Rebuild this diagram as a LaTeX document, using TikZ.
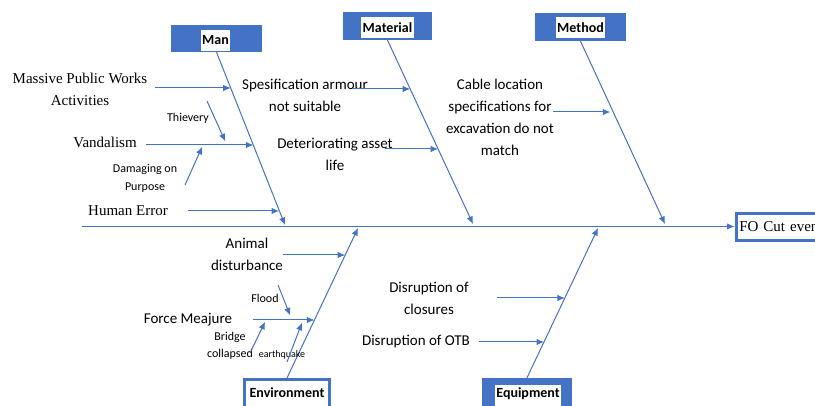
\documentclass[tikz,border=0pt]{standalone}
\usepackage{fontspec}
\setmainfont{Liberation Serif}
\newfontfamily\calibri{Carlito}
\usetikzlibrary{arrows.meta}
\definecolor{fbblue}{RGB}{68,114,196}

\tikzset{
  bone/.style={draw=fbblue, line width=1pt, -{Latex[length=7.5pt,width=6.5pt]}},
  catbox/.style={fill=fbblue, inner sep=0pt},
  catlbl/.style={fill=white, inner sep=1.5pt, minimum height=21pt,
                 font=\calibri\bfseries\fontsize{14}{16}\selectfont},
  causeserif/.style={font=\fontsize{15}{22}\selectfont, align=center, inner sep=0pt},
  cause/.style={font=\calibri\fontsize{15}{22}\selectfont, align=center, inner sep=0pt},
  subcause/.style={font=\calibri\fontsize{12}{17.5}\selectfont, align=center, inner sep=0pt},
  tinycause/.style={font=\calibri\fontsize{10}{12}\selectfont, inner sep=0pt},
}

\begin{document}
\begin{tikzpicture}[x=1pt,y=-1pt]
\useasboundingbox (0,0) rectangle (815,406);
\clip (0,0) rectangle (815,406);

% ---------- category heads ----------
\node[catbox, minimum width=91pt, minimum height=27pt] (manBox) at (216.5,38.5) {};
\node[catlbl] (manLbl) at (215.5,40.5) {Man};
\node[catbox, minimum width=89pt, minimum height=28pt] (matBox) at (387.5,26) {};
\node[catlbl] (matLbl) at (387.5,27.5) {Material};
\node[catbox, minimum width=91pt, minimum height=28pt] (metBox) at (580.5,27) {};
\node[catlbl] (metLbl) at (580.5,27.5) {Method};
\node[draw=fbblue, line width=3pt, fill=white, minimum width=85pt, minimum height=32pt,
      inner sep=0pt] (envBox) at (287,395.5) {};
\node[catlbl, inner sep=0pt] (envLbl) at (287,393) {Environment};
\node[catbox, minimum width=90pt, minimum height=32pt] (eqpBox) at (527,394) {};
\node[catlbl, anchor=base, minimum height=0pt, text height=11.5pt, text depth=10pt]
  (eqpLbl) at (528,398) {Equipment};

% ---------- effect ----------
\node[draw=fbblue, line width=3.5pt, fill=white, anchor=west, minimum height=27pt,
      text width=90pt, inner xsep=3pt, align=left,
      font=\fontsize{15}{18}\selectfont] (foBox) at (734.5,227) {FO Cut event};

% ---------- main spine ----------
\coordinate (spineStart) at (82,226.5);
\draw[bone] (spineStart) -- (spineStart -| foBox.west);

% ---------- category bones ----------
\coordinate (manTip) at (285,225);
\coordinate (matTip) at (473,224);
\coordinate (metTip) at (665,224);
\coordinate (envTip) at (358,228);
\coordinate (eqpTip) at (598,228);

\draw[bone] (manBox.south) -- (manTip)
  coordinate[pos=0.208] (man1) coordinate[pos=0.538] (man2) coordinate[pos=0.913] (man3);
\draw[bone] (matBox.south) -- (matTip)
  coordinate[pos=0.266] (mat1) coordinate[pos=0.592] (mat2);
\draw[bone] (metBox.south) -- (metTip)
  coordinate[pos=0.388] (met1);
\draw[bone] (envBox.north) -- (envTip)
  coordinate[pos=0.82] (env1) coordinate[pos=0.387] (env2);
\draw[bone] (eqpBox.north) -- (eqpTip)
  coordinate[pos=0.533] (eqp1) coordinate[pos=0.24] (eqp2);

% ---------- Man causes ----------
\node[causeserif] (massive) at (80,89) {Massive Public Works\\Activities};
\node[causeserif] (vandal) at (105,142) {Vandalism};
\node[causeserif] (human) at (128,211) {Human Error};
\node[subcause] (thief) at (188,118) {Thievery};
\node[subcause] (damage) at (145,178.5) {Damaging on\\Purpose};

\coordinate (massiveS) at (155,88);
\coordinate (vandalS) at (146,145);
\coordinate (humanS) at (188,211);
\draw[bone] (massiveS) -- (massiveS -| man1);
\draw[bone] (vandalS) -- (vandalS -| man2)
  coordinate[pos=0.754] (vand1) coordinate[pos=0.531] (vand2);
\draw[bone] (humanS) -- (humanS -| man3);

\coordinate (thiefS) at (207,101);
\coordinate (damageS) at (185,185);
\draw[bone, shorten >=4pt] (thiefS) -- (vand1);
\draw[bone, shorten >=2pt] (damageS) -- (vand2);

% ---------- Material causes ----------
\node[cause] (armour) at (305,95.5) {Spesification armour\\not suitable};
\node[cause] (asset) at (335,154.5) {Deteriorating asset\\life};
\coordinate (armourS) at (353,89);
\coordinate (assetS) at (385,149);
\draw[bone] (armourS) -- (armourS -| mat1);
\draw[bone] (assetS) -- (assetS -| mat2);

% ---------- Method causes ----------
\node[cause] (cable) at (500,117) {Cable location\\specifications for\\excavation do not\\match};
\coordinate (cableS) at (553,112);
\draw[bone, shorten >=3pt] (cableS) -- (cableS -| met1);

% ---------- Environment causes ----------
\node[cause] (animal) at (247,254.5) {Animal\\disturbance};
\node[cause] (force) at (188,320) {Force Meajure};
\node[subcause] (flood) at (265,298) {Flood};
\node[subcause] (bridge) at (230,346) {Bridge\\collapsed};
\node[tinycause] (quake) at (282,354.5) {earthquake};

\coordinate (animalS) at (283,255);
\coordinate (forceS) at (253,320);
\draw[bone] (animalS) -- (animalS -| env1);
\draw[bone] (forceS) -- (forceS -| env2)
  coordinate[pos=0.634] (frc1) coordinate[pos=0.211] (frc2) coordinate[pos=0.813] (frc3);

\coordinate (floodS) at (278,285);
\coordinate (bridgeS) at (250,353);
\coordinate (quakeS) at (287,362);
\draw[bone, shorten >=5pt] (floodS) -- (frc1);
\draw[bone, shorten >=2pt] (bridgeS) -- (frc2);
\draw[bone, shorten >=3pt] (quakeS) -- (frc3);

% ---------- Equipment causes ----------
\node[cause] (closure) at (429,298.5) {Disruption of\\closures};
\node[cause] (otb) at (416,342) {Disruption of OTB};
\coordinate (closureS) at (497,298);
\coordinate (otbS) at (479,342);
\draw[bone] (closureS) -- (closureS -| eqp1);
\draw[bone] (otbS) -- (otbS -| eqp2);
\end{tikzpicture}
\end{document}
